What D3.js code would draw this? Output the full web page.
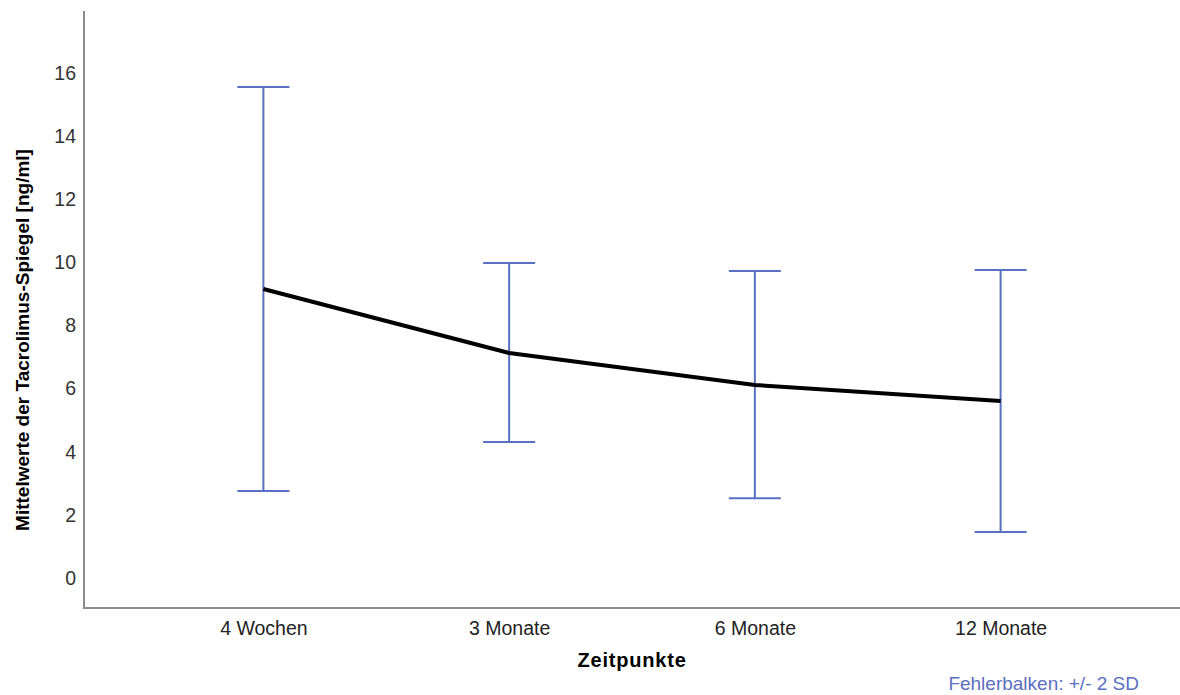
<!DOCTYPE html>
<html><head><meta charset="utf-8">
<script src="https://cdn.jsdelivr.net/npm/d3@7/dist/d3.min.js"></script>
<style>body{margin:0;background:#fff}svg{display:block}text{font-family:"Liberation Sans",Arial,sans-serif}</style>
</head><body><svg id="c" width="1180" height="695"></svg>
<script>
const categories = ["4 Wochen", "3 Monate", "6 Monate", "12 Monate"];
const means = [9.16, 7.13, 6.12, 5.61];
const upper = [15.56, 9.98, 9.73, 9.76];
const lower = [2.76, 4.31, 2.53, 1.46];
const yTicks = [0, 2, 4, 6, 8, 10, 12, 14, 16];

const svg = d3.select("#c");
const x = d3.scalePoint().domain(categories).range([84, 1180]).padding(0.73);
const y = d3.scaleLinear().domain([-0.95, 17.97]).range([608, 11]);
const FF = '"Liberation Sans",Arial,sans-serif';

// axes lines
svg.append("line").attr("x1", 84).attr("x2", 84).attr("y1", 11).attr("y2", 608)
  .attr("stroke", "#8c8c8c").attr("stroke-width", 2);
svg.append("line").attr("x1", 83).attr("x2", 1180).attr("y1", 608).attr("y2", 608)
  .attr("stroke", "#8c8c8c").attr("stroke-width", 2);

// y tick labels
const yAxis = d3.axisLeft(y).tickValues(yTicks).tickSize(0).tickPadding(8);
const gy = svg.append("g").attr("transform", "translate(84,0)").call(yAxis);
gy.select(".domain").remove();
gy.selectAll("text").attr("font-size", 19.5).attr("fill", "#333").style("font-family", FF);

// x tick labels
const xAxis = d3.axisBottom(x).tickSize(0).tickPadding(13);
const gx = svg.append("g").attr("transform", "translate(0,608)").call(xAxis);
gx.select(".domain").remove();
gx.selectAll("text").attr("font-size", 19.5).attr("fill", "#222").style("font-family", FF);

// error bars
const eb = "#5a70c2";
const capW = 26;
const g = svg.append("g");
categories.forEach((c, i) => {
  const cx = x(c);
  g.append("line").attr("x1", cx).attr("x2", cx).attr("y1", y(upper[i])).attr("y2", y(lower[i]))
    .attr("stroke", eb).attr("stroke-width", 2);
  g.append("line").attr("x1", cx - capW).attr("x2", cx + capW).attr("y1", y(upper[i])).attr("y2", y(upper[i]))
    .attr("stroke", eb).attr("stroke-width", 2);
  g.append("line").attr("x1", cx - capW).attr("x2", cx + capW).attr("y1", y(lower[i])).attr("y2", y(lower[i]))
    .attr("stroke", eb).attr("stroke-width", 2);
});

// mean line
const line = d3.line().x((d, i) => x(categories[i])).y(d => y(d));
svg.append("path").datum(means).attr("d", line).attr("fill", "none")
  .attr("stroke", "#000").attr("stroke-width", 4).attr("stroke-linejoin", "round");

// axis titles
svg.append("text").attr("x", 632).attr("y", 667).attr("text-anchor", "middle")
  .attr("font-size", 20).attr("font-weight", "bold").attr("letter-spacing", 0.8).attr("fill", "#000").text("Zeitpunkte");
svg.append("text").attr("transform", "translate(29,340) rotate(-90)").attr("text-anchor", "middle")
  .attr("font-size", 19).attr("font-weight", "bold").attr("fill", "#000")
  .text("Mittelwerte der Tacrolimus-Spiegel [ng/ml]");

// footnote
svg.append("text").attr("x", 1139).attr("y", 690).attr("text-anchor", "end")
  .attr("font-size", 19).attr("fill", "#5a6fbf").text("Fehlerbalken: +/- 2 SD");
</script></body></html>
